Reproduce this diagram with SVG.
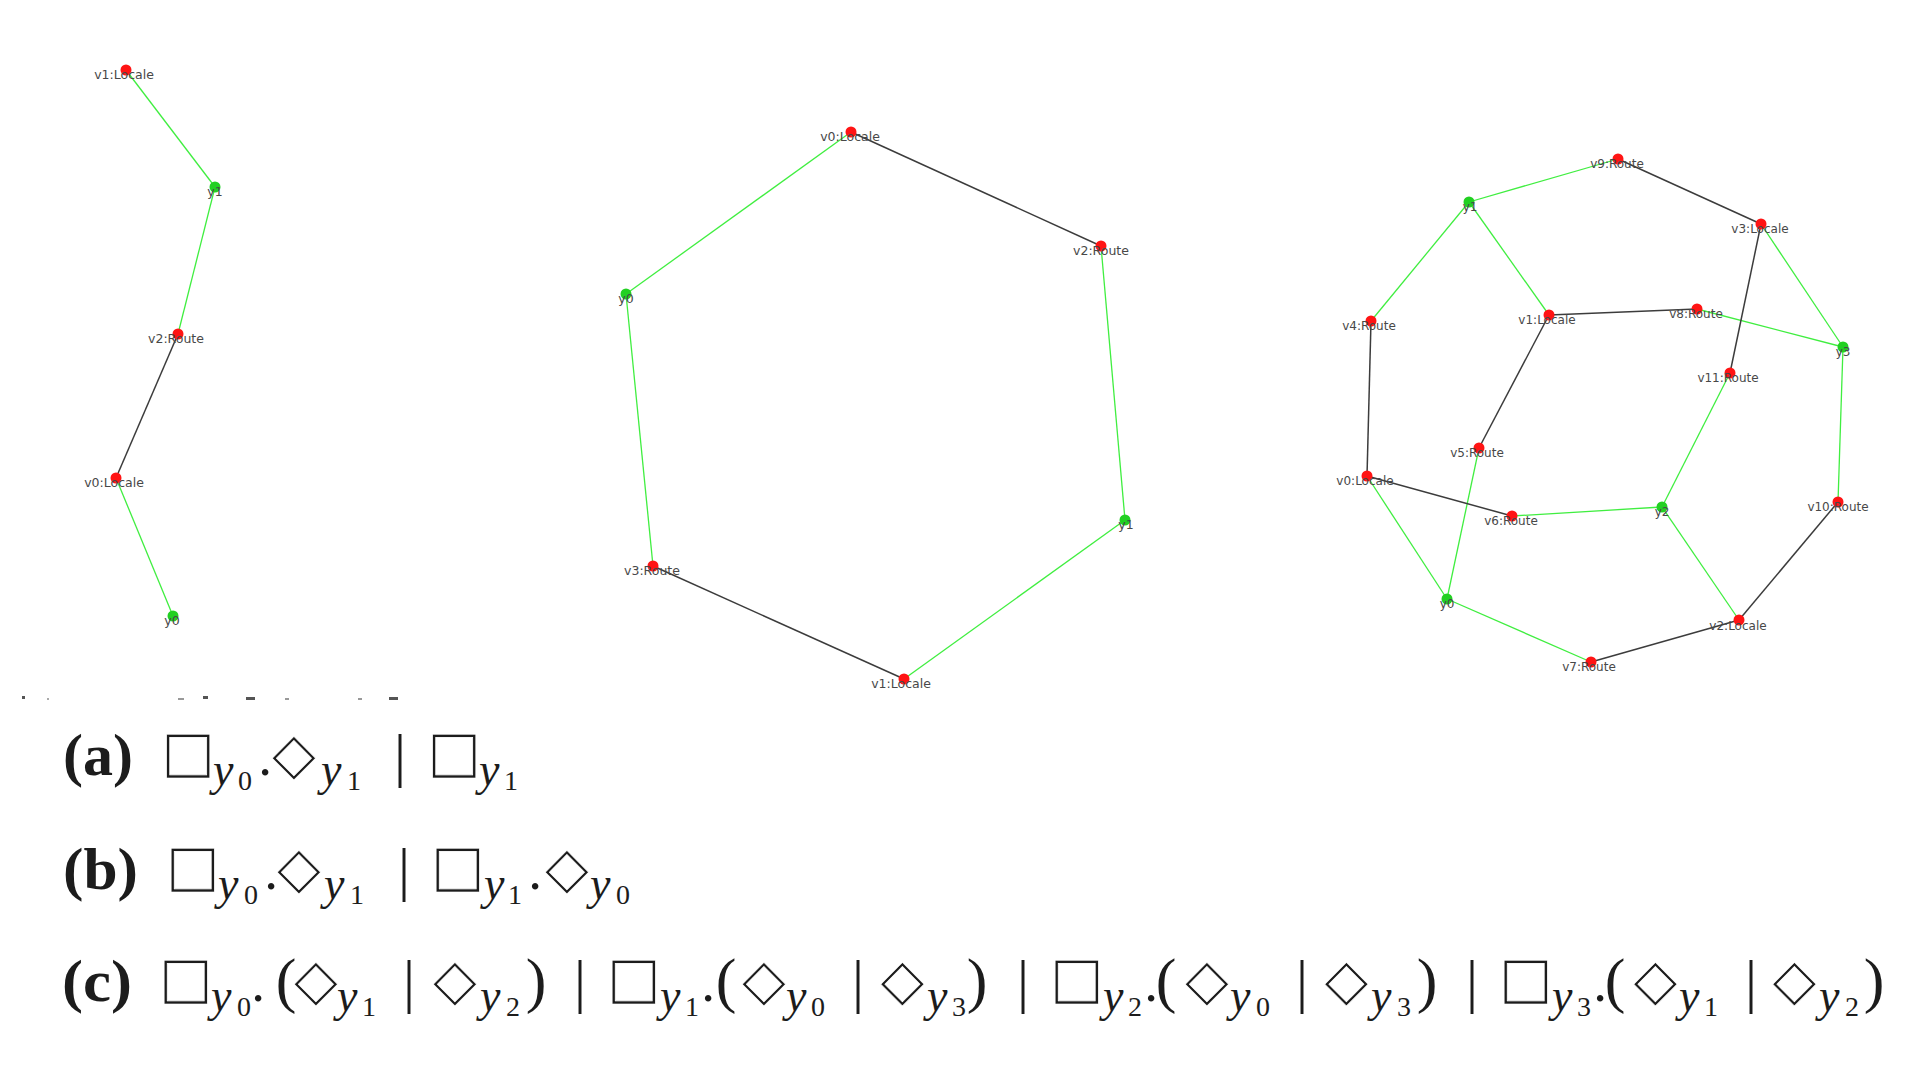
<svg xmlns="http://www.w3.org/2000/svg" width="1920" height="1066" viewBox="0 0 1920 1066">
<style>
.eg{stroke:#40ee40;stroke-width:1.3;fill:none}
.ek{stroke:#3c3c3c;stroke-width:1.5;fill:none}
.r{fill:#ff1414}
.g{fill:#22d022}
.lbl{font-family:"DejaVu Sans",sans-serif;font-size:12.5px;fill:#484848;text-anchor:middle}
.lc{font-size:12px}
.fm{font-family:"Liberation Serif",serif;fill:#1c1c1c}
.bl{font-weight:bold;font-size:60px}
.sym{font-family:"DejaVu Sans",sans-serif;font-size:57px;text-anchor:middle;fill:#1c1c1c;stroke:#ffffff;stroke-width:0.7}
.yi{font-style:italic;font-size:46px}
.dg{font-size:28px;font-style:normal}
.pr{font-size:62px;text-anchor:middle}
.bar{font-size:60px;text-anchor:middle}
.dt{font-size:55px;text-anchor:middle}
.frag{fill:#555}
</style>
<rect width="1920" height="1066" fill="#ffffff"/>

<g id="connectors">
  <line class="eg" x1="126" y1="70" x2="215" y2="187"/>
  <line class="eg" x1="215" y1="187" x2="178" y2="334"/>
  <line class="ek" x1="178" y1="334" x2="116" y2="478"/>
  <line class="eg" x1="116" y1="478" x2="173" y2="616"/>
  <line class="ek" x1="851" y1="132" x2="1101" y2="246"/>
  <line class="eg" x1="1101" y1="246" x2="1125" y2="520"/>
  <line class="eg" x1="1125" y1="520" x2="904" y2="679"/>
  <line class="ek" x1="904" y1="679" x2="653" y2="566"/>
  <line class="eg" x1="653" y1="566" x2="626" y2="294"/>
  <line class="eg" x1="626" y1="294" x2="851" y2="132"/>
  <line class="eg" x1="1469" y1="202" x2="1618" y2="159"/>
  <line class="ek" x1="1618" y1="159" x2="1761" y2="224"/>
  <line class="eg" x1="1469" y1="202" x2="1371" y2="321"/>
  <line class="eg" x1="1469" y1="202" x2="1549" y2="315"/>
  <line class="ek" x1="1549" y1="315" x2="1697" y2="309"/>
  <line class="eg" x1="1697" y1="309" x2="1843" y2="347"/>
  <line class="eg" x1="1761" y1="224" x2="1843" y2="347"/>
  <line class="ek" x1="1761" y1="224" x2="1730" y2="373"/>
  <line class="ek" x1="1371" y1="321" x2="1367" y2="476"/>
  <line class="ek" x1="1549" y1="315" x2="1479" y2="448"/>
  <line class="eg" x1="1730" y1="373" x2="1662" y2="507"/>
  <line class="eg" x1="1843" y1="347" x2="1838" y2="502"/>
  <line class="eg" x1="1479" y1="448" x2="1447" y2="599"/>
  <line class="ek" x1="1367" y1="476" x2="1512" y2="516"/>
  <line class="eg" x1="1512" y1="516" x2="1662" y2="507"/>
  <line class="eg" x1="1367" y1="476" x2="1447" y2="599"/>
  <line class="eg" x1="1662" y1="507" x2="1739" y2="620"/>
  <line class="ek" x1="1838" y1="502" x2="1739" y2="620"/>
  <line class="eg" x1="1447" y1="599" x2="1591" y2="662"/>
  <line class="ek" x1="1591" y1="662" x2="1739" y2="620"/>
</g>

<g id="panel-a">
  <g id="a-v1"><circle class="r" cx="126" cy="70" r="5.5"/><text class="lbl" x="124" y="79">v1:Locale</text></g>
  <g id="a-y1"><circle class="g" cx="215" cy="187" r="5.5"/><text class="lbl" x="215" y="196">y1</text></g>
  <g id="a-v2"><circle class="r" cx="178" cy="334" r="5.5"/><text class="lbl" x="176" y="343">v2:Route</text></g>
  <g id="a-v0"><circle class="r" cx="116" cy="478" r="5.5"/><text class="lbl" x="114" y="487">v0:Locale</text></g>
  <g id="a-y0"><circle class="g" cx="173" cy="616" r="5.5"/><text class="lbl" x="172" y="625">y0</text></g>
</g>

<g id="panel-b">
  <g id="b-v0"><circle class="r" cx="851" cy="132" r="5.5"/><text class="lbl" x="850" y="141">v0:Locale</text></g>
  <g id="b-v2"><circle class="r" cx="1101" cy="246" r="5.5"/><text class="lbl" x="1101" y="255">v2:Route</text></g>
  <g id="b-y1"><circle class="g" cx="1125" cy="520" r="5.5"/><text class="lbl" x="1126" y="529">y1</text></g>
  <g id="b-v1"><circle class="r" cx="904" cy="679" r="5.5"/><text class="lbl" x="901" y="688">v1:Locale</text></g>
  <g id="b-v3"><circle class="r" cx="653" cy="566" r="5.5"/><text class="lbl" x="652" y="575">v3:Route</text></g>
  <g id="b-y0"><circle class="g" cx="626" cy="294" r="5.5"/><text class="lbl" x="626" y="303">y0</text></g>
</g>

<g id="panel-c">
  <g id="c-v9"><circle class="r" cx="1618" cy="159" r="5.5"/><text class="lbl lc" x="1617" y="168">v9:Route</text></g>
  <g id="c-y1"><circle class="g" cx="1469" cy="202" r="5.5"/><text class="lbl lc" x="1470" y="211">y1</text></g>
  <g id="c-v3"><circle class="r" cx="1761" cy="224" r="5.5"/><text class="lbl lc" x="1760" y="233">v3:Locale</text></g>
  <g id="c-v4"><circle class="r" cx="1371" cy="321" r="5.5"/><text class="lbl lc" x="1369" y="330">v4:Route</text></g>
  <g id="c-v1"><circle class="r" cx="1549" cy="315" r="5.5"/><text class="lbl lc" x="1547" y="324">v1:Locale</text></g>
  <g id="c-v8"><circle class="r" cx="1697" cy="309" r="5.5"/><text class="lbl lc" x="1696" y="318">v8:Route</text></g>
  <g id="c-y3"><circle class="g" cx="1843" cy="347" r="5.5"/><text class="lbl lc" x="1843" y="356">y3</text></g>
  <g id="c-v11"><circle class="r" cx="1730" cy="373" r="5.5"/><text class="lbl lc" x="1728" y="382">v11:Route</text></g>
  <g id="c-v5"><circle class="r" cx="1479" cy="448" r="5.5"/><text class="lbl lc" x="1477" y="457">v5:Route</text></g>
  <g id="c-v0"><circle class="r" cx="1367" cy="476" r="5.5"/><text class="lbl lc" x="1365" y="485">v0:Locale</text></g>
  <g id="c-v10"><circle class="r" cx="1838" cy="502" r="5.5"/><text class="lbl lc" x="1838" y="511">v10:Route</text></g>
  <g id="c-y2"><circle class="g" cx="1662" cy="507" r="5.5"/><text class="lbl lc" x="1662" y="516">y2</text></g>
  <g id="c-v6"><circle class="r" cx="1512" cy="516" r="5.5"/><text class="lbl lc" x="1511" y="525">v6:Route</text></g>
  <g id="c-y0"><circle class="g" cx="1447" cy="599" r="5.5"/><text class="lbl lc" x="1447" y="608">y0</text></g>
  <g id="c-v2"><circle class="r" cx="1739" cy="620" r="5.5"/><text class="lbl lc" x="1738" y="630">v2:Locale</text></g>
  <g id="c-v7"><circle class="r" cx="1591" cy="662" r="5.5"/><text class="lbl lc" x="1589" y="671">v7:Route</text></g>
</g>

<g id="clipped-caption-remnants">
  <rect class="frag" x="22" y="696" width="3" height="3"/>
  <rect class="frag" x="47" y="698" width="2" height="2" opacity="0.5"/>
  <rect class="frag" x="178" y="698" width="6" height="2" opacity="0.6"/>
  <rect class="frag" x="203" y="696" width="5" height="3"/>
  <rect class="frag" x="246" y="697" width="9" height="3"/>
  <rect class="frag" x="285" y="698" width="4" height="2" opacity="0.6"/>
  <rect class="frag" x="358" y="698" width="4" height="2" opacity="0.6"/>
  <rect class="frag" x="389" y="697" width="9" height="3"/>
</g>

<g id="formula-a">
  <text class="fm bl" x="63" y="775" textLength="70" lengthAdjust="spacingAndGlyphs">(a)</text>
  <text class="sym" x="188.5" y="771">□</text>
  <text class="fm yi" x="213" y="785">y<tspan class="dg" x="238" y="790">0</tspan></text>
  <text class="fm dt" x="265" y="775">.</text>
  <text class="sym" x="294" y="773">◇</text>
  <text class="fm yi" x="321" y="785">y<tspan class="dg" x="347" y="790">1</tspan></text>
  <text class="fm bar" x="400" y="775">|</text>
  <text class="sym" x="454.5" y="771">□</text>
  <text class="fm yi" x="479" y="785">y<tspan class="dg" x="504" y="790">1</tspan></text>
</g>

<g id="formula-b">
  <text class="fm bl" x="63" y="889" textLength="75" lengthAdjust="spacingAndGlyphs">(b)</text>
  <text class="sym" x="193" y="885">□</text>
  <text class="fm yi" x="218" y="899">y<tspan class="dg" x="244" y="904">0</tspan></text>
  <text class="fm dt" x="271" y="889">.</text>
  <text class="sym" x="299" y="887">◇</text>
  <text class="fm yi" x="324" y="899">y<tspan class="dg" x="350" y="904">1</tspan></text>
  <text class="fm bar" x="404" y="889">|</text>
  <text class="sym" x="458" y="885">□</text>
  <text class="fm yi" x="484" y="899">y<tspan class="dg" x="508" y="904">1</tspan></text>
  <text class="fm dt" x="535" y="889">.</text>
  <text class="sym" x="567" y="887">◇</text>
  <text class="fm yi" x="590" y="899">y<tspan class="dg" x="616" y="904">0</tspan></text>
</g>

<g id="formula-c">
  <text class="fm bl" x="62" y="1001" textLength="70" lengthAdjust="spacingAndGlyphs">(c)</text>
  <text class="sym" x="186" y="997">□</text>
  <text class="fm yi" x="211" y="1011">y<tspan class="dg" x="237" y="1016">0</tspan></text>
  <text class="fm dt" x="258" y="1001">.</text>
  <text class="fm pr" x="286" y="1001">(</text>
  <text class="sym" x="316" y="999">◇</text>
  <text class="fm yi" x="337" y="1011">y<tspan class="dg" x="362" y="1016">1</tspan></text>
  <text class="fm bar" x="409" y="1001">|</text>
  <text class="sym" x="455" y="999">◇</text>
  <text class="fm yi" x="480" y="1011">y<tspan class="dg" x="506" y="1016">2</tspan></text>
  <text class="fm pr" x="536" y="1001">)</text>
  <text class="fm bar" x="580" y="1001">|</text>
  <text class="sym" x="634" y="997">□</text>
  <text class="fm yi" x="660" y="1011">y<tspan class="dg" x="685" y="1016">1</tspan></text>
  <text class="fm dt" x="708" y="1001">.</text>
  <text class="fm pr" x="726" y="1001">(</text>
  <text class="sym" x="764" y="999">◇</text>
  <text class="fm yi" x="786" y="1011">y<tspan class="dg" x="811" y="1016">0</tspan></text>
  <text class="fm bar" x="858" y="1001">|</text>
  <text class="sym" x="902.5" y="999">◇</text>
  <text class="fm yi" x="927" y="1011">y<tspan class="dg" x="952" y="1016">3</tspan></text>
  <text class="fm pr" x="977" y="1001">)</text>
  <text class="fm bar" x="1023" y="1001">|</text>
  <text class="sym" x="1077" y="997">□</text>
  <text class="fm yi" x="1103" y="1011">y<tspan class="dg" x="1128" y="1016">2</tspan></text>
  <text class="fm dt" x="1151" y="1001">.</text>
  <text class="fm pr" x="1166" y="1001">(</text>
  <text class="sym" x="1207" y="999">◇</text>
  <text class="fm yi" x="1230" y="1011">y<tspan class="dg" x="1256" y="1016">0</tspan></text>
  <text class="fm bar" x="1302" y="1001">|</text>
  <text class="sym" x="1346.5" y="999">◇</text>
  <text class="fm yi" x="1371" y="1011">y<tspan class="dg" x="1397" y="1016">3</tspan></text>
  <text class="fm pr" x="1427" y="1001">)</text>
  <text class="fm bar" x="1472" y="1001">|</text>
  <text class="sym" x="1526" y="997">□</text>
  <text class="fm yi" x="1552" y="1011">y<tspan class="dg" x="1577" y="1016">3</tspan></text>
  <text class="fm dt" x="1600" y="1001">.</text>
  <text class="fm pr" x="1615" y="1001">(</text>
  <text class="sym" x="1655.5" y="999">◇</text>
  <text class="fm yi" x="1679" y="1011">y<tspan class="dg" x="1704" y="1016">1</tspan></text>
  <text class="fm bar" x="1751" y="1001">|</text>
  <text class="sym" x="1794.5" y="999">◇</text>
  <text class="fm yi" x="1819" y="1011">y<tspan class="dg" x="1845" y="1016">2</tspan></text>
  <text class="fm pr" x="1874" y="1001">)</text>
</g>
</svg>
